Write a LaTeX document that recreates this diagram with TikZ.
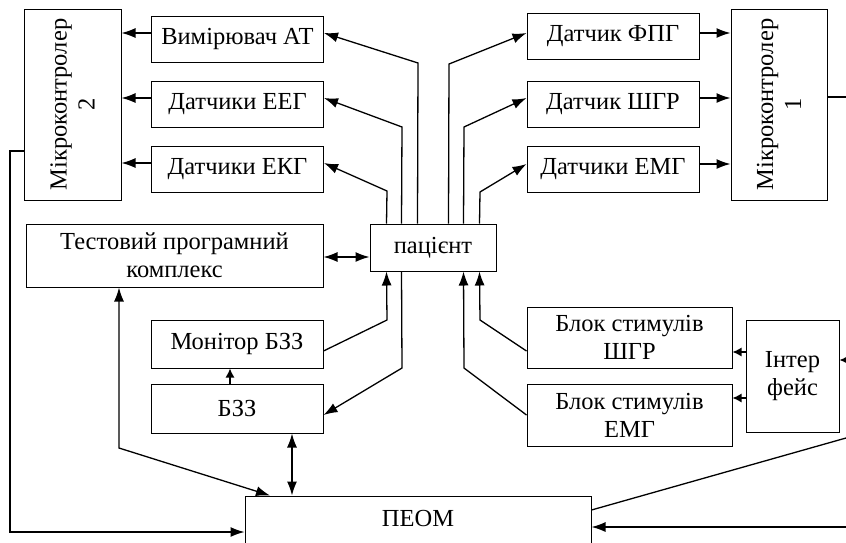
\documentclass[tikz,border=0pt]{standalone}
\usepackage{fontspec}
\setmainfont{Liberation Serif}
\usetikzlibrary{arrows.meta,positioning}
\newcommand{\diagfont}{\fontsize{24.5}{28}\selectfont}
\tikzset{
	blk/.style={draw, line width=1pt, align=center, inner sep=0pt, font=\diagfont},
	sens/.style={blk, minimum width=172pt, minimum height=46pt},
	arr/.style={line width=1.3pt, -{Latex[length=14pt,width=10pt]}},
	darr/.style={line width=1.3pt, {Latex[length=14pt,width=10pt]}-{Latex[length=14pt,width=10pt]}},
	sarr/.style={line width=1.3pt, -{Latex[length=9pt,width=9pt]}},
	ln/.style={line width=1.3pt}
}
\begin{document}
\begin{tikzpicture}[x=1pt,y=-1pt]
	\useasboundingbox (0,0) rectangle (846,542);
	\node[blk, minimum width=97pt, minimum height=191pt] (mk2) at (72.5,104.5) {};
	\node[rotate=90, align=center, font=\diagfont] (mk2txt) at (mk2) {Мікроконтролер\\2};
	\node[sens] (at) at (237.5,39) {Вимірювач АТ};
	\node[sens, below=18pt of at] (eeg) {Датчики ЕЕГ};
	\node[sens, below=18pt of eeg] (ekg) {Датчики ЕКГ};
	\node[blk, minimum width=297pt, minimum height=63pt] (test) at (174.5,255.5) {Тестовий програмний\\комплекс};
	\node[blk, minimum width=126pt, minimum height=47pt] (pat) at (433,247.5) {пацієнт};
	\node[sens] (fpg) at (613,36) {Датчик ФПГ};
	\node[sens, below=21pt of fpg] (shgr) {Датчик ШГР};
	\node[sens, below=18pt of shgr] (emg) {Датчики ЕМГ};
	\node[blk, minimum width=96pt, minimum height=191pt] (mk1) at (779,104.5) {};
	\node[rotate=90, align=center, font=\diagfont] (mk1txt) at (mk1) {Мікроконтролер\\1};
	\node[blk, minimum width=172pt, minimum height=48pt] (mon) at (237,344) {Монітор БЗЗ};
	\node[blk, minimum width=172pt, minimum height=49pt, below=15pt of mon] (bzz) {БЗЗ};
	\node[blk, minimum width=346pt, minimum height=50pt, text depth=6pt] (peom) at (418,521) {ПЕОМ};
	\node[blk, minimum width=205pt, minimum height=61pt] (shgrst) at (629.5,337.5) {Блок стимулів\\ШГР};
	\node[blk, minimum width=205pt, minimum height=62pt, below=15pt of shgrst] (emgst) {Блок стимулів\\ЕМГ};
	\node[blk, minimum width=93pt, minimum height=112pt] (intf) at (792.5,376) {Інтер\\фейс};

	\coordinate (mk1out) at (846,97);
	\coordinate (intfin) at (846,360);
	\coordinate (peomin) at (846,527);
	\coordinate (peomout) at (846,438);

	\draw[arr] ([yshift=6pt]at.west) -- ([yshift=6pt]at.west -| mk2.east);
	\draw[arr] ([yshift=6pt]eeg.west) -- ([yshift=6pt]eeg.west -| mk2.east);
	\draw[arr] ([yshift=6pt]ekg.west) -- ([yshift=6pt]ekg.west -| mk2.east);
	\draw[arr] ([xshift=48pt]pat.north west) -- (418,63) -- ([yshift=6pt]at.east);
	\draw[arr] ([xshift=32pt]pat.north west) -- (402,127) -- ([yshift=6pt]eeg.east);
	\draw[arr] ([xshift=17pt]pat.north west) -- (387,191) -- ([yshift=6pt]ekg.east);
	\draw[arr] ([xshift=79pt]pat.north west) -- (449,64) -- ([yshift=3pt]fpg.west);
	\draw[arr] ([xshift=94pt]pat.north west) -- (464,127) -- ([yshift=6pt]shgr.west);
	\draw[arr] ([xshift=110pt]pat.north west) -- (480,192) -- ([yshift=5pt]emg.west);
	\draw[arr] ([yshift=3pt]fpg.east) -- ([yshift=3pt]fpg.east -| mk1.west);
	\draw[arr] ([yshift=6pt]shgr.east) -- ([yshift=6pt]shgr.east -| mk1.west);
	\draw[arr] ([yshift=5pt]emg.east) -- ([yshift=5pt]emg.east -| mk1.west);
	\draw[ln] ([yshift=7.5pt]mk1.east) -- (mk1out);
	\draw[darr] ([yshift=-1.5pt]test.east) -- ([yshift=-1.5pt]test.east -| pat.west);
	\draw[arr] ([yshift=-7pt]mon.east) -- (387,320) -- ([xshift=17pt]pat.south west);
	\draw[arr] ([xshift=32pt]pat.south west) -- (402,368) -- ([yshift=-6.5pt]bzz.east);
	\draw[arr] ([yshift=-13.5pt]shgrst.west) -- (480,320) -- ([xshift=110pt]pat.south west);
	\draw[arr] (emgst.west) -- (464,368) -- ([xshift=94pt]pat.south west);
	\draw[sarr] ([yshift=24pt]intf.west) -- ([yshift=24pt]intf.west -| shgrst.east);
	\draw[sarr] ([yshift=-22pt]intf.west) -- ([yshift=-22pt]intf.west -| emgst.east);
	\draw[sarr] (intfin) -- ([yshift=16pt]intf.east);
	\draw[sarr] ([xshift=-7pt]bzz.north) -- ([xshift=-7pt]mon.south);
	\draw[darr] ([xshift=55pt]bzz.south) -- ([xshift=55pt]bzz.south |- peom.north);
	\draw[darr] ([xshift=-55.5pt]test.south) -- (119,448) -- ([xshift=-148pt]peom.north);
	\draw[arr] ([yshift=-46.5pt]mk2.west) -| (10,532) -- ([yshift=-11pt]peom.west);
	\draw[arr] (peomin) -- ([yshift=-6pt]peom.east);
	\draw[ln] ([yshift=11pt]peom.east) -- (peomout);
\end{tikzpicture}
\end{document}
